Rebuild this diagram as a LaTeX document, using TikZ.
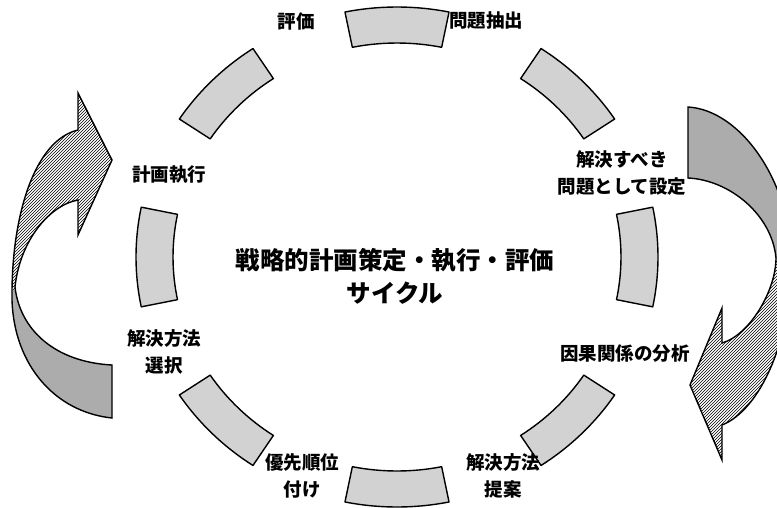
\documentclass[tikz,border=0pt]{standalone}
\usepackage{fontspec}
\newfontfamily\jp{Noto Sans CJK JP}
\usetikzlibrary{patterns}
\newcommand\LArrowPath{(78,93) -- (112,160) -- (78,235) -- (78,200) .. controls (50,205) and (20,240) .. (15,287) .. controls (20,330) and (55,362) .. (112,365) -- (112,418) .. controls (55,412) and (14,365) .. (12,300) .. controls (11,215) and (35,140) .. (78,130) -- cycle}
\newcommand\RArrowPath{(688,107) .. controls (740,110) and (790,180) .. (791,258) .. controls (792,340) and (760,410) .. (722,425) -- (722,460) -- (690,385) -- (722,308) -- (722,343) .. controls (750,335) and (776,290) .. (776,258) .. controls (772,215) and (730,180) .. (688,178) -- cycle}
\begin{document}
\begin{tikzpicture}[x=1pt,y=-1pt,
  seg/.style={draw=black, line width=1.4pt, fill=gray!35, line join=round},
  bigarrow/.style={draw=black, line width=1.4pt, line join=miter},
  darkpart/.style={fill=gray!65},
  hatchpart/.style={pattern=north east lines, pattern color=black},
  lbl/.style={font=\jp\bfseries\fontsize{18.5}{27}\selectfont, align=center, inner sep=0pt},
  ttl/.style={font=\jp\bfseries\fontsize{24.5}{33}\selectfont, align=center, inner sep=0pt}]
\useasboundingbox (0,0) rectangle (777,507);
\clip (0,0) rectangle (777,507);
\fill[white] (0,0) rectangle (777,507);
% ring segments
\foreach \a in {90,45,0,-45,-90,-135,180,135}{
  \draw[seg] ([shift={(397,257)}]\a-11.5:261 and 250)
    arc[start angle=\a-11.5, end angle=\a+11.5, x radius=261, y radius=250]
    -- ([shift={(397,257)}]\a+11.5:224 and 214)
    arc[start angle=\a+11.5, end angle=\a-11.5, x radius=224, y radius=214]
    -- cycle;
}
% left big arrow
\fill[darkpart] \LArrowPath;
\begin{scope}
  \clip (0,0) rectangle (150,289);
  \fill[white] \LArrowPath;
  \fill[hatchpart] \LArrowPath;
\end{scope}
\draw[bigarrow] \LArrowPath;
% right big arrow
\fill[darkpart] \RArrowPath;
\begin{scope}
  \clip (650,259) rectangle (800,507);
  \fill[white] \RArrowPath;
  \fill[hatchpart] \RArrowPath;
\end{scope}
\draw[bigarrow] \RArrowPath;
% labels
\node[lbl] (hyoka) at (296,21) {評価};
\node[lbl] (mondai) at (486,21) {問題抽出};
\node[lbl] (settei) at (622,173) {解決すべき\\問題として設定};
\node[lbl] (inga) at (625,354) {因果関係の分析};
\node[lbl] (teian) at (503,476) {解決方法\\提案};
\node[lbl] (yusen) at (302,476) {優先順位\\付け};
\node[lbl] (sentaku) at (164,352) {解決方法\\選択};
\node[lbl] (shikko) at (169,175) {計画執行};
\node[ttl] (title) at (395,276) {戦略的計画策定・執行・評価\\サイクル};
\end{tikzpicture}
\end{document}
